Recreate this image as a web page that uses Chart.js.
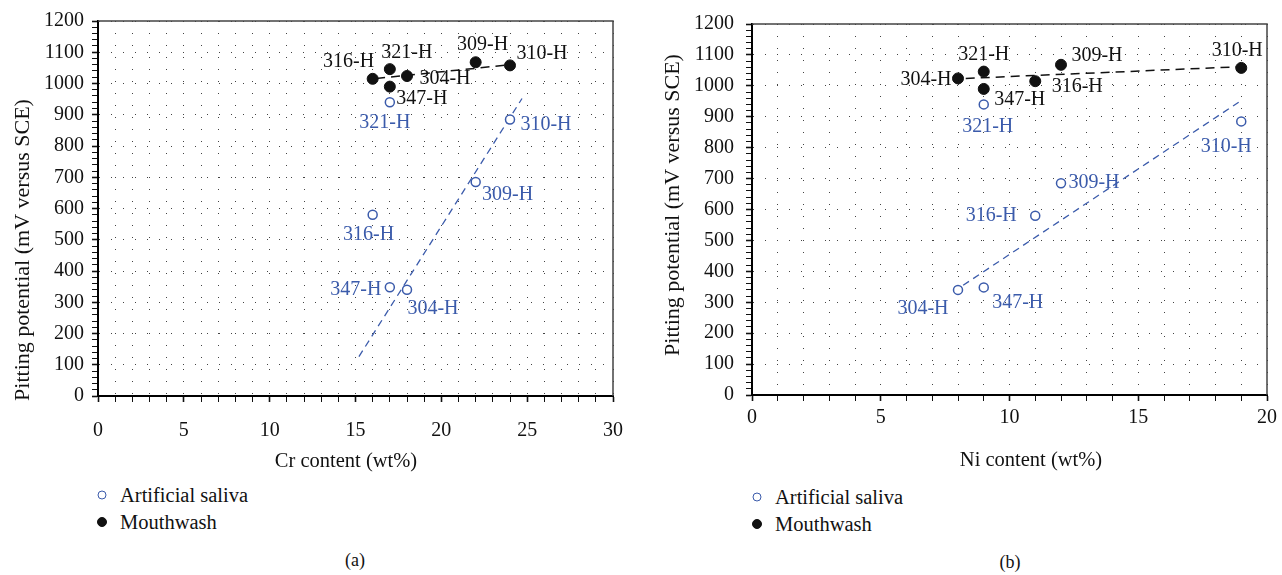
<!DOCTYPE html>
<html>
<head>
<meta charset="utf-8">
<script src="https://cdn.jsdelivr.net/npm/chart.js@4.4.1/dist/chart.umd.min.js"></script>
<style>
body { margin:0; width:1282px; height:575px; position:relative; background:#fff; overflow:hidden;
       font-family:"Liberation Serif", "Times New Roman", serif; color:#111; }
canvas { position:absolute; top:0; }
.item { position:absolute; font-size:20.5px; height:24px; line-height:24px; white-space:nowrap; }
.mark { position:absolute; top:12px; border-radius:50%; box-sizing:border-box; transform:translate(-50%,-50%); }
.caption { position:absolute; font-size:18px; transform:translate(-50%,-50%); }
</style>
</head>
<body>
<canvas id="crChart" width="640" height="480" style="left:0"></canvas>
<canvas id="niChart" width="642" height="480" style="left:640px"></canvas>
<div id="crLegend"></div>
<div id="niLegend"></div>
<div class="caption" style="left:355px; top:560px">(a)</div>
<div class="caption" style="left:1010px; top:562px">(b)</div>
<script>
// alloys, in the same order for every array
const alloys = ['304-H', '309-H', '310-H', '316-H', '321-H', '347-H'];
const crContent = [18, 22, 24, 16, 17, 17];
const niContent = [8, 12, 19, 11, 9, 9];
const salivaPotential = [340, 685, 885, 580, 940, 348];
const mouthwashPotential = [1024, 1068, 1058, 1015, 1046, 990];

// dashed trend lines (end points)
const crSalivaTrendX = [15.2, 24.7];
const crSalivaTrendY = [126, 952];
const crMouthTrendX = [16.2, 24];
const crMouthTrendY = [1016, 1060];
const niSalivaTrendX = [8.2, 18.9];
const niSalivaTrendY = [355, 947];
const niMouthTrendX = [8.3, 19];
const niMouthTrendY = [1024, 1062];

const seriesNames = ['Artificial saliva', 'Mouthwash'];
const yTitle = 'Pitting potential (mV versus SCE)';

// label offsets in px, same alloy order
const crSalivaOffsets = [[26, 18], [32, 12], [36, 4], [-4, 19], [-5, 19], [-34, 1]];
const crMouthOffsets = [[38, 2], [7, -19], [32, -13], [-24, -18], [17, -17], [32, 11]];
const niSalivaOffsets = [[-35, 18], [33, -1], [-15, 24], [-44, -1], [4, 21], [34, 14]];
const niMouthOffsets = [[-32, 0], [36, -10], [-4, -18], [42, 5], [0, -18], [36, 10]];

const FONT = '"Liberation Serif", "Times New Roman", serif';
const BLUE = '#3b5bab';
const BLACK = '#111';

Chart.defaults.font.family = FONT;
Chart.defaults.color = BLACK;

const toPoints = (xs, ys) => xs.map((x, i) => ({x: x, y: ys[i]}));

const pointLabels = {
    id: 'pointLabels',
    afterDatasetsDraw(chart) {
        const ctx = chart.ctx;
        chart.data.datasets.forEach((ds, i) => {
            if (!ds.names) return;
            const meta = chart.getDatasetMeta(i);
            ctx.save();
            ctx.font = '20px ' + FONT;
            ctx.fillStyle = ds.borderColor;
            ctx.textAlign = 'center';
            ctx.textBaseline = 'middle';
            meta.data.forEach((pt, j) => {
                const off = ds.offsets[j];
                ctx.fillText(ds.names[j], pt.x + off[0], pt.y + off[1] + 1);
            });
            ctx.restore();
        });
    }
};

// top and right edges of the plot box
const frame = {
    id: 'frame',
    beforeDatasetsDraw(chart) {
        const a = chart.chartArea;
        const ctx = chart.ctx;
        ctx.save();
        ctx.strokeStyle = '#444';
        ctx.lineWidth = 1.5;
        ctx.beginPath();
        ctx.moveTo(a.left, a.top);
        ctx.lineTo(a.right, a.top);
        ctx.lineTo(a.right, a.bottom);
        ctx.stroke();
        ctx.restore();
    }
};

// axis titles, placed where the figure has them (not centred on the plot)
const axisTitles = {
    id: 'axisTitles',
    afterDraw(chart, args, opts) {
        const ctx = chart.ctx;
        ctx.save();
        ctx.fillStyle = BLACK;
        ctx.textAlign = 'center';
        ctx.textBaseline = 'middle';
        ctx.font = '20.5px ' + FONT;
        ctx.fillText(opts.xText, opts.xAt[0], opts.xAt[1]);
        ctx.translate(opts.yAt[0], opts.yAt[1]);
        ctx.rotate(-Math.PI / 2);
        ctx.font = '22px ' + FONT;
        ctx.fillText(opts.yText, 0, 0);
        ctx.restore();
    }
};

function makeChart(id, xs, xMax, xTitle, trends, offsets, lay) {
    const ctx = document.getElementById(id).getContext('2d');
    return new Chart(ctx, {
        type: 'scatter',
        data: {
            datasets: [
                {
                    label: seriesNames[0],
                    data: toPoints(xs, salivaPotential),
                    names: alloys,
                    offsets: offsets[0],
                    pointRadius: 4.5,
                    borderWidth: 1.5,
                    borderColor: BLUE,
                    backgroundColor: '#fff',
                    order: 1
                },
                {
                    label: seriesNames[1],
                    data: toPoints(xs, mouthwashPotential),
                    names: alloys,
                    offsets: offsets[1],
                    pointRadius: 5.5,
                    borderWidth: 1,
                    borderColor: BLACK,
                    backgroundColor: BLACK,
                    order: 0
                },
                {
                    label: 'trend saliva',
                    data: trends[0],
                    showLine: true,
                    pointRadius: 0,
                    borderColor: BLUE,
                    borderWidth: 1.3,
                    borderDash: [7, 5],
                    order: 3
                },
                {
                    label: 'trend mouthwash',
                    data: trends[1],
                    showLine: true,
                    pointRadius: 0,
                    borderColor: BLACK,
                    borderWidth: 1.5,
                    borderDash: [9, 6],
                    order: 2
                }
            ]
        },
        options: {
            responsive: false,
            animation: false,
            events: [],
            devicePixelRatio: 1,
            layout: { padding: { top: lay.top, right: lay.right, left: 0, bottom: 0 } },
            plugins: {
                legend: { display: false },
                tooltip: { enabled: false },
                axisTitles: { xText: xTitle, xAt: lay.xTitleAt, yText: yTitle, yAt: lay.yTitleAt }
            },
            scales: {
                x: {
                    type: 'linear',
                    min: 0,
                    max: xMax,
                    afterFit(s) { s.height = lay.xHeight; },
                    ticks: {
                        stepSize: 1,
                        autoSkip: false,
                        maxRotation: 0,
                        padding: lay.xPad,
                        font: { size: 20 },
                        callback: v => v % 5 === 0 ? v : ''
                    },
                    grid: {
                        color: '#444',
                        lineWidth: 1,
                        tickLength: 6,
                        tickColor: BLACK,
                        tickWidth: c => c.tick && c.tick.value % 5 === 0 ? 1.6 : 1
                    },
                    border: { color: '#000', width: 2, dash: [1, 11] }
                },
                y: {
                    type: 'linear',
                    min: 0,
                    max: 1200,
                    afterFit(s) { s.width = lay.yWidth; },
                    ticks: {
                        stepSize: 20,
                        autoSkip: false,
                        maxTicksLimit: 100,
                        padding: lay.yPad,
                        font: { size: 20 },
                        callback: v => v % 100 === 0 ? v : ''
                    },
                    grid: {
                        color: c => c.tick && c.tick.value % 100 === 0 ? '#444' : 'rgba(0,0,0,0)',
                        lineWidth: 1,
                        tickLength: 6,
                        tickColor: BLACK,
                        tickWidth: c => c.tick && c.tick.value % 100 === 0 ? 1.6 : 1
                    },
                    border: { color: '#000', width: 2, dash: [1, 11] }
                }
            }
        },
        plugins: [frame, pointLabels, axisTitles]
    });
}

function buildLegend(boxId, chart, markX, textX, rowsY) {
    const box = document.getElementById(boxId);
    chart.data.datasets.slice(0, 2).forEach((ds, i) => {
        const item = document.createElement('div');
        item.className = 'item';
        item.style.left = textX + 'px';
        item.style.top = (rowsY[i] - 12) + 'px';
        item.textContent = ds.label;
        const mark = document.createElement('span');
        mark.className = 'mark';
        const size = i === 0 ? 9 : 10;
        mark.style.width = size + 'px';
        mark.style.height = size + 'px';
        mark.style.left = (markX - textX) + 'px';
        mark.style.border = (i === 0 ? 1.5 : 1) + 'px solid ' + ds.borderColor;
        mark.style.background = ds.backgroundColor;
        item.appendChild(mark);
        box.appendChild(item);
    });
}

const crChart = makeChart('crChart', crContent, 30, 'Cr content (wt%)',
    [toPoints(crSalivaTrendX, crSalivaTrendY), toPoints(crMouthTrendX, crMouthTrendY)],
    [crSalivaOffsets, crMouthOffsets],
    { top: 21, right: 16, yWidth: 98, xHeight: 84, xPad: 17, yPad: 8,
      xTitleAt: [346, 462], yTitleAt: [23, 250] });

const niChart = makeChart('niChart', niContent, 20, 'Ni content (wt%)',
    [toPoints(niSalivaTrendX, niSalivaTrendY), toPoints(niMouthTrendX, niMouthTrendY)],
    [niSalivaOffsets, niMouthOffsets],
    { top: 20, right: 11, yWidth: 112, xHeight: 85, xPad: 5, yPad: 12,
      xTitleAt: [391, 461], yTitleAt: [33, 205] });

buildLegend('crLegend', crChart, 102, 120, [495, 522]);
buildLegend('niLegend', niChart, 757, 775, [497, 524]);
</script>
</body>
</html>
